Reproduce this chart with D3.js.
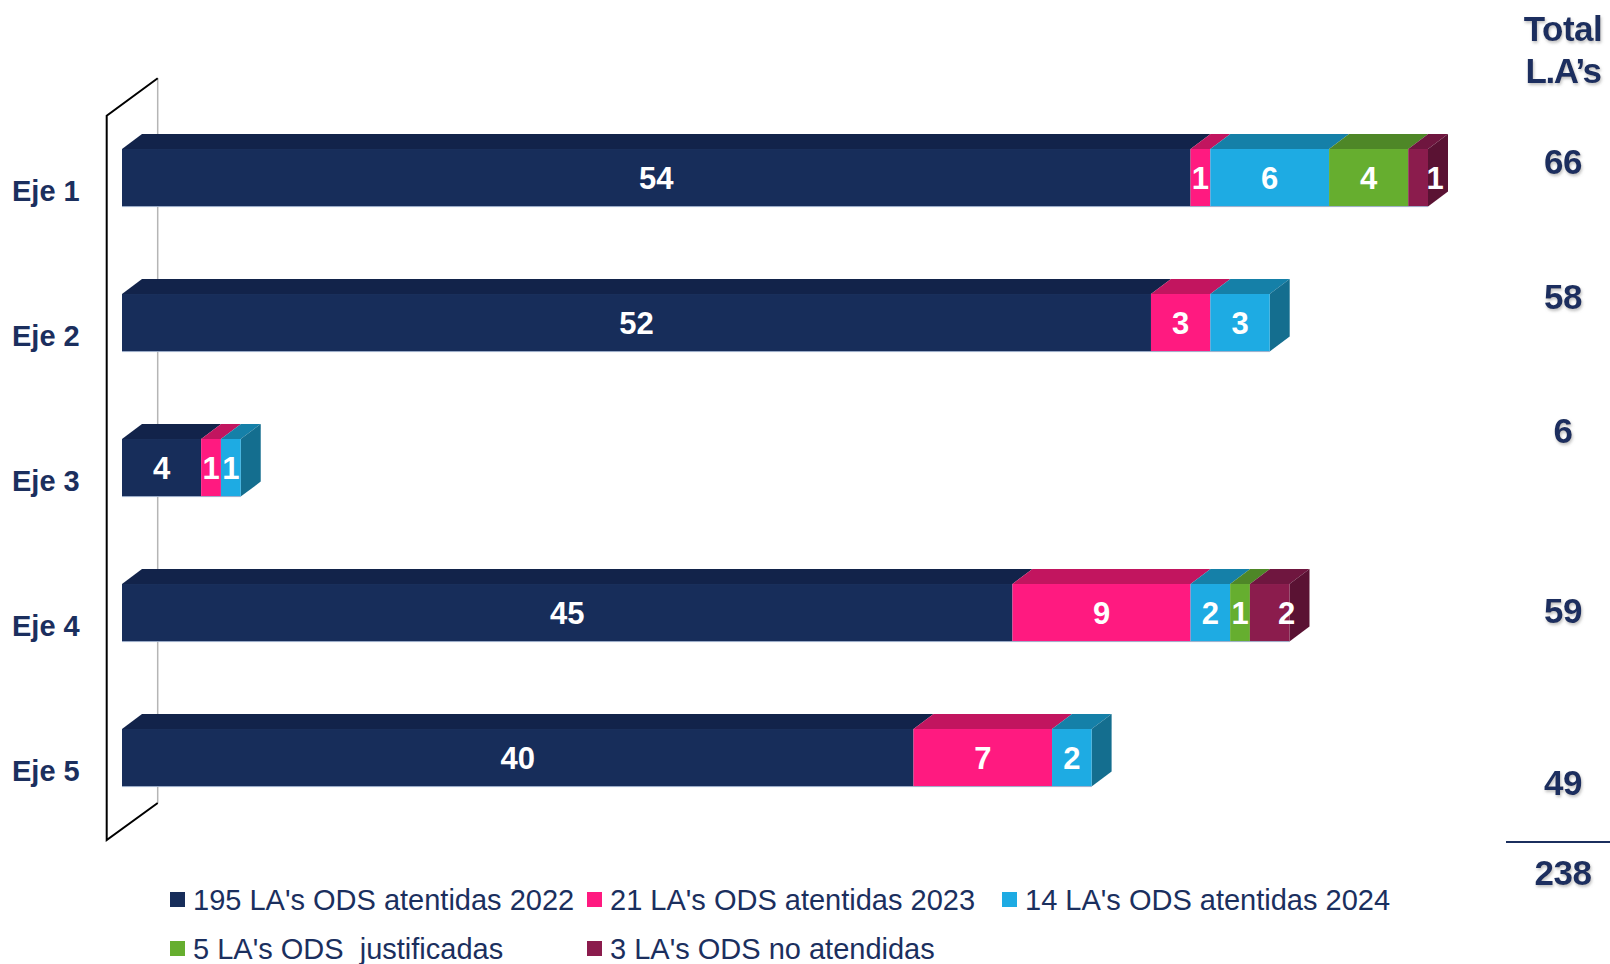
<!DOCTYPE html>
<html lang="es">
<head>
<meta charset="UTF-8">
<title>LA's ODS por eje</title>
<script src="https://cdn.jsdelivr.net/npm/d3@7"></script>
<style>
  body { margin: 0; background: #fff; }
  text { font-family: "Liberation Sans", Arial, sans-serif; }
</style>
</head>
<body>
<script type="text/javascript">
  // data
  var ejes = ["Eje 1", "Eje 2", "Eje 3", "Eje 4", "Eje 5"];
  var atendidas2022 = [54, 52, 4, 45, 40];
  var atendidas2023 = [1, 3, 1, 9, 7];
  var atendidas2024 = [6, 3, 1, 2, 2];
  var justificadas = [4, 0, 0, 1, 0];
  var noAtendidas = [1, 0, 0, 2, 0];
  var serieNombres = ["195 LA's ODS atentidas 2022", "21 LA's ODS atentidas 2023",
    "14 LA's ODS atentidas 2024", "5 LA's ODS  justificadas", "3 LA's ODS no atendidas"];

  var w = 1610;
  var h = 964;
  var navy = "#1b2f5e";
  var dx = 20, dy = -15;

  // front / top / side colours per series
  var colores = [
    {front: "#172d5a", top: "#12234a", side: "#0f1d3d"},
    {front: "#ff1a80", top: "#c2155f", side: "#b01457"},
    {front: "#1eabe3", top: "#1580a8", side: "#146e8f"},
    {front: "#66ae2f", top: "#4e8727", side: "#447422"},
    {front: "#8b1c4d", top: "#6f163f", side: "#5a1233"}
  ];

  var series = [atendidas2022, atendidas2023, atendidas2024, justificadas, noAtendidas];
  var rows = ejes.map(function(e, i) {
    var r = {eje: e};
    series.forEach(function(s, k) { r["s" + k] = s[i]; });
    return r;
  });
  var keys = series.map(function(s, k) { return "s" + k; });
  var stacked = d3.stack().keys(keys)(rows);

  var xScale = d3.scaleLinear().domain([0, 66]).range([122, 1428]);
  var yScale = d3.scaleBand().domain(ejes).range([105.3, 830.3])
    .paddingInner(0.603).paddingOuter(0.3015);
  var bh = yScale.bandwidth();

  var svg = d3.select("body").append("svg")
    .attr("width", w).attr("height", h);

  var defs = svg.append("defs");
  var f = defs.append("filter").attr("id", "sombra")
    .attr("x", "-20%").attr("y", "-20%").attr("width", "140%").attr("height", "160%");
  f.append("feDropShadow").attr("dx", 1).attr("dy", 2).attr("stdDeviation", 1.5)
    .attr("flood-color", "#888").attr("flood-opacity", 0.55);

  // back wall
  svg.append("line")
    .attr("x1", 157.7).attr("y1", 78).attr("x2", 157.7).attr("y2", 803)
    .attr("stroke", "#b5b5b5").attr("stroke-width", 1.5);
  svg.append("polyline")
    .attr("points", "157.7,78.3 106.7,115.7 106.7,840 157.7,803")
    .attr("fill", "none").attr("stroke", "#000").attr("stroke-width", 2);

  // bars
  ejes.forEach(function(eje, i) {
    var y = yScale(eje);
    var g = svg.append("g");
    var segs = [];
    stacked.forEach(function(layer, k) {
      var d = layer[i];
      if (d[1] - d[0] > 0) segs.push({k: k, x0: xScale(d[0]), x1: xScale(d[1]), v: d[1] - d[0]});
    });
    // top faces
    segs.forEach(function(s) {
      g.append("polygon")
        .attr("points", [[s.x0, y], [s.x0 + dx, y + dy], [s.x1 + dx, y + dy], [s.x1, y]].join(" "))
        .attr("fill", colores[s.k].top);
    });
    // side face of last segment
    var last = segs[segs.length - 1];
    g.append("polygon")
      .attr("points", [[last.x1, y], [last.x1 + dx, y + dy], [last.x1 + dx, y + bh + dy], [last.x1, y + bh]].join(" "))
      .attr("fill", colores[last.k].side);
    // front faces
    segs.forEach(function(s) {
      g.append("rect")
        .attr("x", s.x0).attr("y", y)
        .attr("width", s.x1 - s.x0).attr("height", bh)
        .attr("fill", colores[s.k].front);
    });
    g.append("line")
      .attr("x1", segs[0].x0).attr("x2", last.x1)
      .attr("y1", y + bh).attr("y2", y + bh)
      .attr("stroke", "#9fb0cc").attr("stroke-width", 1);
    // value labels
    segs.forEach(function(s) {
      var cx = (s.x0 + s.x1) / 2 + (s.k === 4 ? 17 : 0);
      g.append("text")
        .attr("x", cx).attr("y", y + bh / 2 + 11)
        .attr("text-anchor", "middle")
        .attr("fill", "#fff").attr("font-weight", "bold").attr("font-size", 31)
        .text(s.v);
    });
  });

  // category labels
  svg.selectAll("text.eje").data(ejes).enter().append("text")
    .attr("class", "eje")
    .attr("x", 12)
    .attr("y", function(d) { return yScale(d) + bh / 2 + 23; })
    .attr("fill", navy).attr("font-weight", "bold").attr("font-size", 29)
    .text(function(d) { return d; });

  // totals column
  var totales = rows.map(function(r) { return d3.sum(keys, function(k) { return r[k]; }); });
  var totalY = [174, 309, 443, 623, 795];
  var tx = 1563;
  var tg = svg.append("g").attr("filter", "url(#sombra)")
    .attr("fill", navy).attr("font-weight", "bold").attr("font-size", 35)
    .attr("text-anchor", "middle");
  tg.append("text").attr("x", tx).attr("y", 41).attr("letter-spacing", -0.5).text("Total");
  tg.append("text").attr("x", tx).attr("y", 83).attr("letter-spacing", -1.5).text("L.A\u2019s");
  tg.selectAll("text.tot").data(totales).enter().append("text")
    .attr("class", "tot")
    .attr("x", tx)
    .attr("y", function(d, i) { return totalY[i]; })
    .attr("letter-spacing", -0.5)
    .text(function(d) { return d; });
  svg.append("line")
    .attr("x1", 1506).attr("x2", 1610).attr("y1", 842).attr("y2", 842)
    .attr("stroke", navy).attr("stroke-width", 2);
  tg.append("text").attr("x", tx).attr("y", 885).attr("letter-spacing", -0.5).text(d3.sum(totales));

  // legend
  var legPos = [[170, 910], [587, 910], [1002, 910], [170, 959], [587, 959]];
  serieNombres.forEach(function(n, k) {
    var p = legPos[k];
    svg.append("rect")
      .attr("x", p[0]).attr("y", p[1] - 18)
      .attr("width", 15).attr("height", 15)
      .attr("fill", colores[k].front);
    svg.append("text")
      .attr("x", p[0] + 23).attr("y", p[1])
      .attr("fill", navy).attr("font-size", 29)
      .attr("xml:space", "preserve")
      .style("white-space", "pre")
      .text(n);
  });
</script>
</body>
</html>
